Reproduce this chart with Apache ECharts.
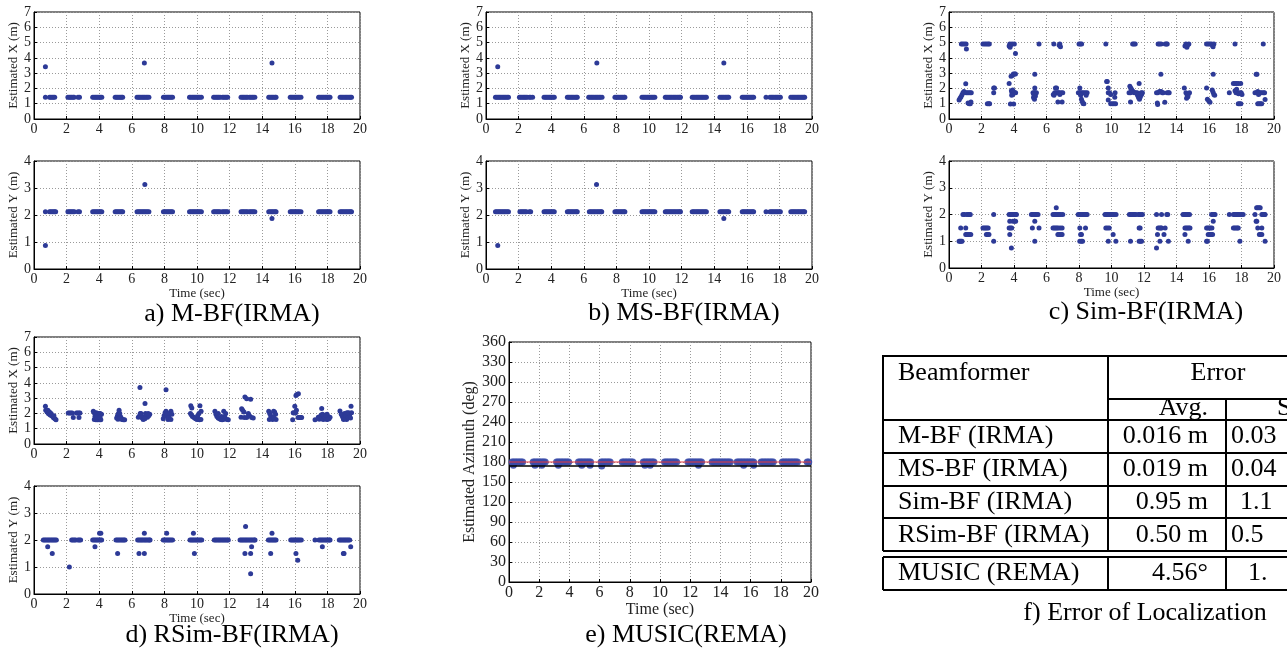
<!DOCTYPE html>
<html lang="en">
<head>
<meta charset="UTF-8">
<title>Localization results</title>
<style>
  html, body { margin: 0; padding: 0; background: #fff; }
  #box { width: 1287px; height: 650px; }
</style>
<script src="https://cdn.jsdelivr.net/npm/echarts@6/dist/echarts.min.js"></script>
</head>
<body>
<div id="box"></div>
<script>
// ---- data: [time (sec), estimate] ----
const aX = [
  [0.70,1.42],[0.70,3.42],
  [0.95,1.42],[1.03,1.42],[1.11,1.42],[1.19,1.42],[1.27,1.42],
  [2.08,1.42],[2.16,1.42],[2.24,1.42],[2.32,1.42],[2.40,1.42],[2.46,1.42],[2.70,1.42],[2.79,1.42],
  [3.60,1.42],[3.68,1.42],[3.76,1.42],[3.84,1.42],[3.92,1.42],[4.00,1.42],[4.08,1.42],[4.16,1.42],
  [4.98,1.42],[5.06,1.42],[5.14,1.42],[5.22,1.42],[5.30,1.42],[5.38,1.42],[5.44,1.42],
  [6.32,1.42],[6.40,1.42],[6.48,1.42],[6.56,1.42],[6.64,1.42],[6.72,1.42],[6.77,3.67],[6.80,1.42],[6.88,1.42],[6.96,1.42],[7.05,1.42],
  [7.94,1.42],[8.02,1.42],[8.10,1.42],[8.18,1.42],[8.26,1.42],[8.34,1.42],[8.42,1.42],[8.50,1.42],
  [9.54,1.42],[9.62,1.42],[9.70,1.42],[9.78,1.42],[9.86,1.42],[9.94,1.42],[10.02,1.42],[10.10,1.42],[10.18,1.42],[10.27,1.42],
  [11.02,1.42],[11.10,1.42],[11.18,1.42],[11.26,1.42],[11.34,1.42],[11.42,1.42],[11.56,1.42],[11.64,1.42],[11.72,1.42],[11.80,1.42],[11.88,1.42],
  [12.70,1.42],[12.78,1.42],[12.86,1.42],[12.94,1.42],[13.02,1.42],[13.10,1.42],[13.22,1.42],[13.30,1.42],[13.38,1.42],[13.46,1.42],[13.55,1.42],
  [14.40,1.42],[14.48,1.42],[14.56,1.42],[14.60,3.67],[14.64,1.42],[14.72,1.42],[14.80,1.42],[14.85,1.42],
  [15.72,1.42],[15.80,1.42],[15.88,1.42],[15.96,1.42],[16.04,1.42],[16.12,1.42],[16.20,1.42],[16.28,1.42],[16.38,1.42],
  [17.46,1.42],[17.54,1.42],[17.62,1.42],[17.70,1.42],[17.78,1.42],[17.86,1.42],[17.94,1.42],[18.02,1.42],[18.10,1.42],[18.16,1.42],
  [18.78,1.42],[18.86,1.42],[18.94,1.42],[19.02,1.42],[19.10,1.42],[19.18,1.42],[19.26,1.42],[19.34,1.42],[19.42,1.42],[19.48,1.42]
];
const aY = [
  [0.70,2.12],[0.70,0.87],
  [0.95,2.12],[1.03,2.12],[1.11,2.12],[1.19,2.12],[1.27,2.12],[1.33,2.12],
  [2.08,2.12],[2.16,2.12],[2.24,2.12],[2.32,2.12],[2.40,2.12],[2.48,2.12],[2.70,2.12],[2.79,2.12],
  [3.60,2.12],[3.68,2.12],[3.76,2.12],[3.84,2.12],[3.92,2.12],[4.00,2.12],[4.08,2.12],[4.16,2.12],
  [4.98,2.12],[5.06,2.12],[5.14,2.12],[5.22,2.12],[5.30,2.12],[5.38,2.12],[5.44,2.12],
  [6.32,2.12],[6.40,2.12],[6.48,2.12],[6.56,2.12],[6.64,2.12],[6.72,2.12],[6.80,3.13],[6.80,2.12],[6.88,2.12],[6.96,2.12],[7.05,2.12],
  [7.94,2.12],[8.02,2.12],[8.10,2.12],[8.18,2.12],[8.26,2.12],[8.34,2.12],[8.42,2.12],[8.50,2.12],
  [9.54,2.12],[9.62,2.12],[9.70,2.12],[9.78,2.12],[9.86,2.12],[9.94,2.12],[10.02,2.12],[10.10,2.12],[10.18,2.12],[10.27,2.12],
  [11.02,2.12],[11.10,2.12],[11.18,2.12],[11.26,2.12],[11.34,2.12],[11.42,2.12],[11.56,2.12],[11.64,2.12],[11.72,2.12],[11.80,2.12],[11.88,2.12],
  [12.70,2.12],[12.78,2.12],[12.86,2.12],[12.94,2.12],[13.02,2.12],[13.10,2.12],[13.22,2.12],[13.30,2.12],[13.38,2.12],[13.46,2.12],[13.55,2.12],
  [14.40,2.12],[14.48,2.12],[14.56,2.12],[14.60,1.87],[14.64,2.12],[14.72,2.12],[14.80,2.12],[14.85,2.12],
  [15.72,2.12],[15.80,2.12],[15.88,2.12],[15.96,2.12],[16.04,2.12],[16.12,2.12],[16.20,2.12],[16.28,2.12],[16.38,2.12],
  [17.46,2.12],[17.54,2.12],[17.62,2.12],[17.70,2.12],[17.78,2.12],[17.86,2.12],[17.94,2.12],[18.02,2.12],[18.10,2.12],[18.16,2.12],
  [18.78,2.12],[18.86,2.12],[18.94,2.12],[19.02,2.12],[19.10,2.12],[19.18,2.12],[19.26,2.12],[19.34,2.12],[19.42,2.12],[19.48,2.12]
];
const bX = [
  [0.58,1.42],[0.66,1.42],[0.72,3.42],[0.74,1.42],[0.82,1.42],[0.90,1.42],[0.98,1.42],[1.06,1.42],[1.14,1.42],[1.22,1.42],[1.30,1.42],[1.38,1.42],
  [2.05,1.42],[2.13,1.42],[2.21,1.42],[2.29,1.42],[2.37,1.42],[2.45,1.42],[2.52,1.42],[2.66,1.42],[2.74,1.42],[2.86,1.42],
  [3.56,1.42],[3.64,1.42],[3.72,1.42],[3.80,1.42],[3.88,1.42],[3.96,1.42],[4.04,1.42],[4.12,1.42],[4.19,1.42],
  [4.99,1.42],[5.07,1.42],[5.15,1.42],[5.23,1.42],[5.31,1.42],[5.39,1.42],[5.47,1.42],[5.55,1.42],[5.60,1.42],
  [6.30,1.42],[6.38,1.42],[6.46,1.42],[6.54,1.42],[6.62,1.42],[6.70,1.42],[6.78,1.42],[6.80,3.67],[6.86,1.42],[6.94,1.42],[7.02,1.42],[7.12,1.42],
  [7.91,1.42],[7.99,1.42],[8.07,1.42],[8.15,1.42],[8.23,1.42],[8.31,1.42],[8.39,1.42],[8.47,1.42],[8.52,1.42],
  [9.57,1.42],[9.65,1.42],[9.73,1.42],[9.81,1.42],[9.89,1.42],[9.97,1.42],[10.05,1.42],[10.13,1.42],[10.21,1.42],[10.29,1.42],[10.36,1.42],
  [11.00,1.42],[11.08,1.42],[11.16,1.42],[11.24,1.42],[11.32,1.42],[11.40,1.42],[11.48,1.42],[11.56,1.42],[11.64,1.42],[11.72,1.42],[11.80,1.42],[11.88,1.42],[11.93,1.42],
  [12.65,1.42],[12.73,1.42],[12.81,1.42],[12.89,1.42],[12.97,1.42],[13.05,1.42],[13.13,1.42],[13.21,1.42],[13.29,1.42],[13.37,1.42],[13.45,1.42],[13.52,1.42],
  [14.35,1.42],[14.43,1.42],[14.51,1.42],[14.59,3.67],[14.59,1.42],[14.67,1.42],[14.75,1.42],[14.83,1.42],[14.89,1.42],
  [15.72,1.42],[15.80,1.42],[15.88,1.42],[15.96,1.42],[16.04,1.42],[16.12,1.42],[16.20,1.42],[16.28,1.42],[16.36,1.42],[16.42,1.42],
  [17.18,1.42],[17.42,1.42],[17.50,1.42],[17.58,1.42],[17.66,1.42],[17.74,1.42],[17.82,1.42],[17.90,1.42],[17.98,1.42],[18.06,1.42],
  [18.70,1.42],[18.78,1.42],[18.86,1.42],[18.94,1.42],[19.02,1.42],[19.10,1.42],[19.18,1.42],[19.26,1.42],[19.34,1.42],[19.42,1.42],[19.50,1.42],[19.55,1.42]
];
const bY = [
  [0.58,2.12],[0.66,2.12],[0.72,0.87],[0.74,2.12],[0.82,2.12],[0.90,2.12],[0.98,2.12],[1.06,2.12],[1.14,2.12],[1.22,2.12],[1.30,2.12],[1.38,2.12],
  [2.08,2.12],[2.16,2.12],[2.24,2.12],[2.32,2.12],[2.40,2.12],[2.48,2.12],[2.66,2.12],[2.74,2.12],
  [3.56,2.12],[3.64,2.12],[3.72,2.12],[3.80,2.12],[3.88,2.12],[3.96,2.12],[4.04,2.12],[4.12,2.12],[4.19,2.12],
  [4.99,2.12],[5.07,2.12],[5.15,2.12],[5.23,2.12],[5.31,2.12],[5.39,2.12],[5.47,2.12],[5.55,2.12],[5.60,2.12],
  [6.34,2.12],[6.42,2.12],[6.50,2.12],[6.58,2.12],[6.66,2.12],[6.74,2.12],[6.78,3.13],[6.82,2.12],[6.90,2.12],[6.98,2.12],[7.06,2.12],[7.10,2.12],
  [7.91,2.12],[7.99,2.12],[8.07,2.12],[8.15,2.12],[8.23,2.12],[8.31,2.12],[8.39,2.12],[8.47,2.12],[8.52,2.12],
  [9.57,2.12],[9.65,2.12],[9.73,2.12],[9.81,2.12],[9.89,2.12],[9.97,2.12],[10.05,2.12],[10.13,2.12],[10.21,2.12],[10.29,2.12],[10.36,2.12],
  [11.00,2.12],[11.08,2.12],[11.16,2.12],[11.24,2.12],[11.32,2.12],[11.40,2.12],[11.48,2.12],[11.56,2.12],[11.64,2.12],[11.72,2.12],[11.80,2.12],[11.88,2.12],[11.93,2.12],
  [12.65,2.12],[12.73,2.12],[12.81,2.12],[12.89,2.12],[12.97,2.12],[13.05,2.12],[13.13,2.12],[13.21,2.12],[13.29,2.12],[13.37,2.12],[13.45,2.12],[13.52,2.12],
  [14.35,2.12],[14.43,2.12],[14.51,2.12],[14.59,1.87],[14.59,2.12],[14.67,2.12],[14.75,2.12],[14.83,2.12],[14.89,2.12],
  [15.72,2.12],[15.80,2.12],[15.88,2.12],[15.96,2.12],[16.04,2.12],[16.12,2.12],[16.20,2.12],[16.28,2.12],[16.36,2.12],[16.42,2.12],
  [17.18,2.12],[17.42,2.12],[17.50,2.12],[17.58,2.12],[17.66,2.12],[17.74,2.12],[17.82,2.12],[17.90,2.12],[17.98,2.12],[18.06,2.12],
  [18.70,2.12],[18.78,2.12],[18.86,2.12],[18.94,2.12],[19.02,2.12],[19.10,2.12],[19.18,2.12],[19.26,2.12],[19.34,2.12],[19.42,2.12],[19.50,2.12],[19.55,2.12]
];
const cX = [
  [0.62,1.25],[0.68,1.35],[0.74,1.45],[0.80,1.58],[0.86,1.72],[0.92,1.80],
  [0.76,4.90],[0.85,4.90],[0.95,4.90],[1.05,4.90],[1.07,4.58],
  [1.03,2.31],[1.05,1.72],[1.13,1.72],[1.22,1.72],[1.30,1.72],[1.37,1.72],
  [1.17,1.05],[1.24,1.00],[1.31,1.00],[1.35,1.12],
  [2.09,4.90],[2.20,4.90],[2.30,4.90],[2.40,4.90],[2.48,4.90],
  [2.36,1.00],[2.45,1.00],[2.50,1.00],
  [2.75,2.03],[2.80,2.03],[2.75,1.72],
  [3.70,4.78],[3.74,4.90],[3.80,4.85],[3.88,4.90],[4.02,4.90],[3.76,4.70],
  [3.70,2.33],[3.82,2.80],[3.90,2.85],[3.96,2.95],[4.04,2.95],[4.09,2.95],
  [3.78,0.98],[3.98,0.98],
  [3.84,1.85],[3.88,1.70],[3.92,1.60],[3.98,1.75],[4.04,1.72],[4.10,1.72],[3.86,1.55],[3.92,1.90],
  [4.09,4.28],
  [5.17,1.72],[5.24,1.72],[5.30,1.72],[5.38,1.72],[5.28,2.03],[5.28,2.93],[5.20,1.40],[5.26,1.30],[5.32,1.50],[5.22,1.60],
  [5.54,4.90],
  [6.45,4.90],[6.78,4.82],[6.82,4.90],[6.86,4.72],
  [6.42,1.60],[6.50,1.72],[6.58,1.70],[6.66,1.72],[6.74,1.72],[6.82,1.60],[6.90,1.72],[7.00,1.72],[6.55,2.03],[6.62,2.03],[6.70,1.12],[6.96,1.12],[6.46,1.55],[6.78,1.72],
  [8.00,4.90],[8.08,4.90],[8.16,4.90],
  [8.05,2.03],[7.96,1.72],[8.04,1.72],[8.12,1.72],[8.20,1.72],[8.30,1.72],[8.40,1.72],[8.50,1.72],[8.44,1.55],[8.15,1.30],[8.20,1.15],[8.25,1.02],[8.30,1.00],[8.10,1.55],
  [9.65,4.90],
  [9.70,2.46],[9.74,2.46],[9.80,2.03],[9.80,1.72],[9.88,1.72],[9.95,1.60],[9.80,1.25],[9.95,1.00],[10.05,1.00],[10.15,1.00],[10.25,1.00],[10.20,1.42],[10.22,1.72],
  [11.30,4.90],[11.38,4.90],[11.46,4.90],
  [11.13,2.15],[11.18,2.03],[11.23,1.95],[11.28,1.85],[11.35,1.78],[11.40,1.72],[11.08,1.72],[11.17,1.72],[11.50,1.72],[11.58,1.72],[11.17,1.12],
  [11.70,2.33],[11.60,1.55],[11.66,1.40],[11.72,1.30],[11.78,1.45],[11.85,1.60],[11.90,1.72],[11.82,1.72],
  [12.87,4.90],[12.95,4.90],[13.05,4.90],[13.30,4.90],[13.38,4.90],[13.43,4.90],
  [13.04,2.93],[12.77,1.72],[12.85,1.72],[12.95,1.80],[13.05,1.80],[13.12,1.72],[13.18,1.72],[12.82,1.05],[12.84,0.95],[13.28,1.10],[13.42,1.72],[13.50,1.72],[13.55,1.72],
  [14.52,4.78],[14.58,4.90],[14.64,4.70],[14.70,4.85],[14.76,4.90],
  [14.48,2.03],[14.58,1.72],[14.66,1.55],[14.72,1.60],[14.80,1.72],[14.62,1.35],[14.70,1.45],
  [15.85,4.90],[15.95,4.90],[16.05,4.90],[16.15,4.90],[16.22,4.80],[16.30,4.90],[16.25,4.72],
  [15.85,2.03],[15.90,1.30],[15.98,1.20],[16.06,1.10],[16.20,1.90],[16.25,1.75],[16.30,1.60],[16.35,1.55],[16.26,2.93],
  [17.60,4.90],
  [17.25,1.72],[17.50,2.33],[17.60,2.33],[17.70,2.33],[17.80,2.33],[17.95,2.33],[17.60,1.85],[17.66,1.72],[17.74,1.72],[17.82,1.65],[17.90,1.72],[17.98,1.72],[18.03,1.60],[17.70,1.95],[17.80,1.00],[17.88,1.00],[17.96,1.00],
  [19.34,4.90],
  [18.90,2.93],[18.95,2.93],[18.83,1.72],[18.92,1.72],[19.00,1.80],[19.08,1.72],[19.16,1.72],[19.25,1.72],[19.35,1.72],[19.42,1.72],[19.05,1.60],[19.00,1.00],[19.08,1.00],[19.16,1.00],[19.24,1.00],[19.45,1.28]
];
const cY = [
  [0.62,1.00],[0.68,1.00],[0.74,1.00],[0.80,1.00],[0.72,1.50],[0.86,2.00],[0.95,2.00],[1.03,1.50],[1.03,1.25],[1.10,1.25],[1.18,1.25],[1.26,1.25],[1.34,1.25],[1.10,2.00],[1.18,2.00],[1.26,2.00],[1.31,2.00],
  [2.09,1.50],[2.17,1.50],[2.25,1.50],[2.33,1.50],[2.41,1.50],[2.30,1.25],[2.38,1.25],[2.46,1.25],[2.75,2.00],[2.75,1.00],
  [3.70,2.00],[3.78,2.00],[3.86,2.00],[3.94,2.00],[4.02,2.00],[4.10,2.00],[4.15,2.00],[3.70,1.50],[3.78,1.50],[3.86,1.50],[3.74,1.25],[3.84,0.75],[3.94,1.75],[4.04,1.75],[4.10,1.75],[3.74,1.75],
  [5.07,2.00],[5.15,2.00],[5.23,2.00],[5.31,2.00],[5.39,2.00],[5.48,2.00],[5.13,1.50],[5.28,1.00],[5.28,1.75],[5.54,1.50],
  [6.40,2.00],[6.48,2.00],[6.56,2.00],[6.64,2.00],[6.72,2.00],[6.80,2.00],[6.88,2.00],[7.00,2.00],[6.60,2.25],[6.40,1.50],[6.48,1.50],[6.56,1.50],[6.64,1.50],[6.72,1.50],[6.84,1.50],[6.96,1.50],[6.70,1.25],[6.78,1.25],[6.88,1.25],[6.96,1.25],
  [7.95,2.00],[8.03,2.00],[8.11,2.00],[8.19,2.00],[8.27,2.00],[8.35,2.00],[8.43,2.00],[8.50,2.00],[8.05,1.50],[8.15,1.25],[8.05,1.00],[8.15,1.00],[8.22,1.00],[8.40,1.50],[8.10,1.25],
  [9.60,2.00],[9.68,2.00],[9.76,2.00],[9.84,2.00],[9.92,2.00],[10.00,2.00],[10.08,2.00],[10.16,2.00],[10.28,2.00],[9.65,1.50],[9.75,1.50],[9.86,1.50],[10.10,1.25],[9.80,1.00],[10.27,1.00],
  [11.10,2.00],[11.18,2.00],[11.26,2.00],[11.34,2.00],[11.42,2.00],[11.50,2.00],[11.17,1.00],[11.65,2.00],[11.73,2.00],[11.81,2.00],[11.90,2.00],[11.70,1.50],[11.76,1.50],[11.70,1.00],[11.78,1.00],[11.85,1.00],
  [12.77,2.00],[12.83,1.25],[12.77,0.75],[12.87,1.50],[12.95,1.50],[13.03,1.50],[13.08,1.50],[12.98,1.00],[13.08,2.00],[13.23,1.25],[13.30,1.50],[13.40,2.00],[13.46,2.00],[13.50,1.00],
  [14.40,2.00],[14.48,2.00],[14.56,2.00],[14.64,2.00],[14.72,2.00],[14.80,2.00],[14.52,1.25],[14.52,1.50],[14.60,1.50],[14.68,1.50],[14.76,1.50],[14.83,1.50],[14.72,1.00],
  [15.85,1.00],[15.90,1.00],[15.85,1.50],[15.93,1.50],[16.01,1.50],[16.09,1.50],[16.18,1.50],[15.95,1.25],[16.05,1.25],[16.13,1.25],[16.22,1.25],[16.16,2.00],[16.24,2.00],[16.32,2.00],[16.37,2.00],[16.26,1.75],
  [17.25,2.00],[17.50,2.00],[17.58,2.00],[17.66,2.00],[17.74,2.00],[17.82,2.00],[17.90,2.00],[18.00,2.00],[18.10,2.00],[17.50,1.50],[17.58,1.50],[17.66,1.50],[17.74,1.50],[17.80,1.50],[17.90,1.00],
  [18.83,2.00],[18.90,1.75],[18.94,1.75],[18.93,2.25],[19.00,2.25],[19.08,2.25],[19.15,2.25],[19.00,1.50],[19.25,1.50],[19.10,1.25],[19.16,1.25],[19.25,1.25],[19.25,2.00],[19.33,2.00],[19.40,2.00],[19.45,2.00],[19.45,1.00]
];
const dX = [
  [0.70,2.47],[0.72,2.20],[0.80,2.10],[0.85,2.20],[0.88,2.00],[0.95,1.95],[0.95,2.10],[1.00,1.90],[1.05,2.00],[1.08,1.85],[1.15,1.80],[1.20,1.72],[1.28,1.65],[1.35,1.58],[1.22,1.85],
  [2.10,2.03],[2.18,2.03],[2.26,2.03],[2.34,2.03],[2.41,1.73],[2.60,2.03],[2.68,2.03],[2.76,2.03],[2.82,2.03],[2.76,1.73],
  [3.64,2.15],[3.70,2.05],[3.76,1.95],[3.82,2.05],[3.90,2.00],[3.98,2.00],[4.06,2.00],[4.14,1.95],[3.70,1.60],[3.80,1.58],[3.90,1.58],[4.00,1.58],[4.10,1.58],[3.74,1.80],[3.86,1.75],[4.05,1.75],
  [5.07,1.70],[5.12,1.85],[5.18,2.00],[5.22,2.20],[5.26,2.00],[5.30,1.80],[5.35,1.70],[5.40,1.60],[5.48,1.58],[5.56,1.58],[5.15,1.62],[5.25,1.65],
  [6.40,1.75],[6.48,1.85],[6.50,3.70],[6.56,2.00],[6.60,1.80],[6.64,1.70],[6.70,1.60],[6.76,1.75],[6.81,2.65],[6.84,2.00],[6.90,1.90],[6.96,1.75],[7.04,1.85],[7.10,1.95],[6.52,2.00],[6.80,1.65],[7.00,2.00],
  [7.93,1.65],[7.98,1.85],[8.04,2.05],[8.10,3.55],[8.10,2.15],[8.16,1.80],[8.22,1.60],[8.28,1.75],[8.34,2.00],[8.40,2.15],[8.46,1.95],[8.20,2.00],[8.40,1.60],
  [9.62,2.50],[9.68,2.35],[9.60,2.00],[9.66,1.90],[9.72,1.80],[9.80,1.75],[9.86,1.70],[9.92,1.65],[10.00,1.60],[10.08,1.62],[10.16,1.58],[10.24,1.60],[10.18,2.50],[10.25,2.15],[10.12,2.00],[10.04,1.85],
  [11.10,2.15],[11.16,1.95],[11.22,1.80],[11.30,1.70],[11.38,1.65],[11.46,1.60],[11.54,1.58],[11.62,1.60],[11.70,1.80],[11.64,2.15],[11.76,2.00],[11.84,1.60],[11.92,1.58],[11.30,2.00],[11.50,1.80],
  [12.70,1.75],[12.74,2.30],[12.80,2.20],[12.88,2.10],[12.94,3.07],[13.05,2.96],[13.05,1.73],[13.15,2.00],[13.22,1.85],[13.29,2.92],[13.35,1.73],[13.45,1.70],[12.90,1.73],
  [14.40,2.15],[14.46,2.00],[14.52,1.85],[14.58,1.72],[14.64,1.60],[14.70,2.15],[14.76,2.10],[14.82,1.95],[14.85,1.60],[14.44,1.60],[14.70,1.75],
  [15.87,1.58],[15.95,2.03],[16.00,2.47],[16.07,3.18],[16.12,3.24],[16.22,3.29],[16.10,2.20],[16.20,1.73],[16.28,1.73],[16.36,1.73],[16.42,1.73],[15.90,2.05],[16.05,2.05],
  [17.24,1.58],[17.44,1.75],[17.50,1.62],[17.56,1.80],[17.62,1.90],[17.65,2.32],[17.68,1.70],[17.74,1.60],[17.80,1.85],[17.86,1.75],[17.92,1.62],[17.98,1.95],[18.04,1.80],[18.10,1.65],[18.16,1.75],[17.70,1.95],[17.90,1.90],[18.00,1.60],
  [18.77,2.16],[18.85,1.95],[18.92,1.80],[18.98,1.65],[19.05,2.00],[19.12,1.85],[19.18,1.60],[19.24,1.75],[19.30,2.05],[19.36,1.90],[19.42,1.70],[19.45,2.47],[19.48,2.05],[19.00,1.60],[19.20,2.05]
];
const dY = [
  [0.57,2.00],[0.65,2.00],[0.73,2.00],[0.81,2.00],[0.89,2.00],[0.97,2.00],[1.05,2.00],[1.13,2.00],[1.21,2.00],[1.29,2.00],[1.37,2.00],[0.84,1.75],[1.12,1.50],
  [2.17,1.00],[2.31,2.00],[2.39,2.00],[2.47,2.00],[2.55,2.00],[2.70,2.00],[2.78,2.00],[2.86,2.00],
  [3.60,2.00],[3.68,2.00],[3.76,2.00],[3.84,2.00],[3.92,2.00],[4.00,2.00],[4.08,2.00],[4.15,2.00],[3.74,1.75],[4.02,2.25],[4.10,2.25],
  [5.03,2.00],[5.11,2.00],[5.19,2.00],[5.27,2.00],[5.35,2.00],[5.43,2.00],[5.51,2.00],[5.58,2.00],[5.13,1.50],
  [6.36,2.00],[6.44,2.00],[6.52,2.00],[6.60,2.00],[6.68,2.00],[6.76,2.00],[6.84,2.00],[6.92,2.00],[7.00,2.00],[7.08,2.00],[7.12,2.00],[6.44,1.50],[6.77,1.50],[6.77,2.25],
  [7.93,2.00],[8.01,2.00],[8.09,2.00],[8.17,2.00],[8.25,2.00],[8.33,2.00],[8.41,2.00],[8.50,2.00],[8.14,2.25],
  [9.57,2.00],[9.65,2.00],[9.73,2.00],[9.81,2.00],[9.89,2.00],[9.97,2.00],[10.05,2.00],[10.13,2.00],[10.21,2.00],[10.29,2.00],[9.78,2.25],[9.84,1.50],
  [11.06,2.00],[11.14,2.00],[11.22,2.00],[11.30,2.00],[11.38,2.00],[11.46,2.00],[11.54,2.00],[11.62,2.00],[11.70,2.00],[11.78,2.00],[11.86,2.00],[11.92,2.00],
  [12.64,2.00],[12.72,2.00],[12.80,2.00],[12.88,2.00],[12.96,2.00],[13.04,2.00],[13.12,2.00],[13.20,2.00],[13.28,2.00],[13.36,2.00],[13.44,2.00],[13.52,2.00],[13.56,2.00],[12.98,2.50],[12.94,1.50],[13.29,1.50],[13.35,1.75],[13.29,0.75],
  [14.38,2.00],[14.46,2.00],[14.54,2.00],[14.62,2.00],[14.70,2.00],[14.78,2.00],[14.85,2.00],[14.52,1.50],[14.60,2.25],
  [15.75,2.00],[15.83,2.00],[15.91,2.00],[15.99,2.00],[16.07,2.00],[16.15,2.00],[16.23,2.00],[16.31,2.00],[16.40,2.00],[16.07,1.50],[16.18,1.25],
  [17.24,2.00],[17.48,2.00],[17.56,2.00],[17.64,2.00],[17.72,2.00],[17.80,2.00],[17.88,2.00],[17.96,2.00],[18.04,2.00],[18.12,2.00],[18.16,2.00],[17.69,1.75],
  [18.73,2.00],[18.81,2.00],[18.89,2.00],[18.97,2.00],[19.05,2.00],[19.13,2.00],[19.21,2.00],[19.29,2.00],[19.37,2.00],[18.98,1.50],[19.02,1.50],[19.43,1.75]
];
// MUSIC azimuth estimates (deg)
const eAz = [
  [0.20,180],[0.30,180],[0.40,180],[0.50,180],[0.60,180],[0.70,180],[0.80,180],[0.90,180],[0.29,175],
  [1.60,180],[1.70,180],[1.80,180],[1.90,180],[2.00,180],[2.10,180],[2.20,180],[2.30,180],[2.40,180],[1.72,175],[2.17,175],
  [3.15,180],[3.25,180],[3.35,180],[3.45,180],[3.55,180],[3.65,180],[3.75,180],[3.85,180],[3.95,180],[3.27,175],
  [4.60,180],[4.70,180],[4.80,180],[4.90,180],[5.00,180],[5.10,180],[5.20,180],[5.30,180],[5.40,180],[4.82,175],[5.37,175],
  [6.10,180],[6.20,180],[6.30,180],[6.40,180],[6.50,180],[6.60,180],[6.70,180],[6.14,174],
  [7.50,180],[7.60,180],[7.70,180],[7.80,180],[7.90,180],[8.00,180],[8.10,180],[8.20,180],
  [8.90,180],[9.00,180],[9.10,180],[9.20,180],[9.30,180],[9.40,180],[9.50,180],[9.60,180],[9.00,175],[9.35,175],
  [10.30,180],[10.40,180],[10.50,180],[10.60,180],[10.70,180],[10.80,180],[10.90,180],[11.00,180],[11.10,180],
  [11.85,180],[11.95,180],[12.05,180],[12.15,180],[12.25,180],[12.35,180],[12.45,180],[12.55,180],[12.65,180],[12.75,180],[12.55,175],
  [13.45,180],[13.55,180],[13.65,180],[13.75,180],[13.85,180],[13.95,180],[14.05,180],[14.15,180],[14.25,180],[14.35,180],[14.45,180],[14.55,180],[14.65,180],
  [15.10,180],[15.20,180],[15.30,180],[15.40,180],[15.50,180],[15.60,180],[15.70,180],[15.80,180],[15.90,180],[16.00,180],[16.10,180],[16.20,180],[15.54,175],[16.20,175],
  [16.70,180],[16.80,180],[16.90,180],[17.00,180],[17.10,180],[17.20,180],[17.30,180],[17.40,180],[17.50,180],
  [18.10,180],[18.20,180],[18.30,180],[18.40,180],[18.50,180],[18.60,180],[18.70,180],[18.80,180],[18.90,180],[19.00,180],[19.10,180],
  [19.75,180],[19.85,180]
];
const eTruth = 180;   // red reference line
const eMean = 174;    // black line
const timeRange = [0, 20];

// table f)
const tableRows = ['M-BF (IRMA)', 'MS-BF (IRMA)', 'Sim-BF (IRMA)', 'RSim-BF (IRMA)', 'MUSIC (REMA)'];
const tableAvg = ['0.016 m', '0.019 m', '0.95 m', '0.50 m', '4.56\u00B0'];
const tableStd = ['0.03', '0.04', '1.1', '0.5', '1.'];

const captions = ['a) M-BF(IRMA)', 'b) MS-BF(IRMA)', 'c) Sim-BF(IRMA)', 'd) RSim-BF(IRMA)', 'e) MUSIC(REMA)', 'f) Error of Localization'];

(function () {
  const font = 'Liberation Serif';
  const dot = '#2d3a97';
  const ink = '#222';

  // plot layout
  const panels = [
    { pos: [34, 12, 326, 107], yMax: 7, yName: 'Estimated X (m)', data: aX },
    { pos: [34, 161, 326, 108], yMax: 4, yName: 'Estimated Y (m)', data: aY, time: true },
    { pos: [486, 12, 326, 107], yMax: 7, yName: 'Estimated X (m)', data: bX },
    { pos: [486, 161, 326, 108], yMax: 4, yName: 'Estimated Y (m)', data: bY, time: true },
    { pos: [949, 12, 325, 107], yMax: 7, yName: 'Estimated X (m)', data: cX },
    { pos: [949, 161, 325, 107], yMax: 4, yName: 'Estimated Y (m)', data: cY, time: true },
    { pos: [34, 337, 326, 107], yMax: 7, yName: 'Estimated X (m)', data: dX },
    { pos: [34, 486, 326, 108], yMax: 4, yName: 'Estimated Y (m)', data: dY, time: true },
    { pos: [509, 342, 302, 240], yMax: 360, yStep: 30, yName: 'Estimated Azimuth (deg)', data: eAz, time: true, big: true }
  ];

  let grid = [], xAxis = [], yAxis = [], series = [];
  panels.forEach(function (p, i) {
    let fs = p.big ? 16 : 14;   // tick labels
    let ns = p.big ? 16 : 13;   // axis names
    grid.push({
      left: p.pos[0], top: p.pos[1], width: p.pos[2], height: p.pos[3],
      show: true, borderColor: '#000', borderWidth: 1, backgroundColor: '#fff'
    });
    xAxis.push({
      gridIndex: i, type: 'value', min: timeRange[0], max: timeRange[1], interval: 2,
      axisLine: { show: true, onZero: false, lineStyle: { color: '#000', width: 1 } },
      axisTick: { show: true, inside: true, length: 3, lineStyle: { color: '#000' } },
      axisLabel: { fontFamily: font, fontSize: fs, color: ink, margin: 3 },
      splitLine: { show: true, lineStyle: { color: '#9a9a9a', type: [1, 2] } },
      name: p.time ? 'Time (sec)' : '', nameLocation: 'middle', nameGap: p.big ? 18 : 14,
      nameTextStyle: { fontFamily: font, fontSize: ns, color: ink }
    });
    yAxis.push({
      gridIndex: i, type: 'value', min: 0, max: p.yMax, interval: p.yStep || 1,
      axisLine: { show: true, onZero: false, lineStyle: { color: '#000', width: 1 } },
      axisTick: { show: true, inside: true, length: 3, lineStyle: { color: '#000' } },
      axisLabel: { fontFamily: font, fontSize: fs, color: ink, margin: 3 },
      splitLine: { show: true, lineStyle: { color: '#9a9a9a', type: [1, 2] } },
      name: p.yName, nameLocation: 'middle', nameGap: p.big ? 29 : 12,
      nameTextStyle: { fontFamily: font, fontSize: ns, color: ink }
    });
    series.push({
      type: 'scatter', xAxisIndex: i, yAxisIndex: i, data: p.data,
      symbol: 'circle', symbolSize: p.big ? 7 : 5, z: 3,
      itemStyle: { color: p.big ? '#3a4ba8' : dot, opacity: p.big ? 0.9 : 1 }
    });
  });

  // reference lines in e)
  series.push({
    type: 'line', xAxisIndex: 8, yAxisIndex: 8, symbol: 'none', z: 5,
    data: [[timeRange[0], eMean], [timeRange[1], eMean]],
    lineStyle: { color: '#000', width: 1.5 }
  });
  series.push({
    type: 'line', xAxisIndex: 8, yAxisIndex: 8, symbol: 'none', z: 6,
    data: [[timeRange[0], eTruth], [timeRange[1], eTruth]],
    lineStyle: { color: '#e8383d', width: 1 }
  });

  // captions and table
  let g = [];
  function txt(s, x, y, size, align) {
    g.push({
      type: 'text', x: x, y: y, z: 10,
      style: {
        text: s, font: size + 'px "' + font + '"', fill: '#000',
        align: align || 'center', textAlign: align || 'center',
        verticalAlign: 'middle', textVerticalAlign: 'middle'
      }
    });
  }
  function ln(x1, y1, x2, y2) {
    g.push({ type: 'line', z: 10, shape: { x1: x1, y1: y1, x2: x2, y2: y2 }, style: { stroke: '#000', lineWidth: 2 } });
  }

  const capPos = [[232, 314], [684, 313], [1146, 312], [232, 635], [686, 635], [1145, 613]];
  captions.forEach(function (c, i) { txt(c, capPos[i][0], capPos[i][1], 26); });

  // table frame
  const L = 883, C1 = 1108, C2 = 1226, R = 1300;
  const rowY = [420, 453, 486, 518, 551];
  ln(L, 356, R, 356);
  ln(C1, 399, R, 399);
  rowY.forEach(function (y) { ln(L, y, R, y); });
  ln(L, 557, R, 557);
  ln(L, 590, R, 590);
  ln(L, 355, L, 551); ln(L, 557, L, 590);
  ln(C1, 355, C1, 551); ln(C1, 557, C1, 590);
  ln(C2, 399, C2, 551); ln(C2, 557, C2, 590);

  txt('Beamformer', 898, 373, 26, 'left');
  txt('Error', 1218, 373, 26, 'center');
  txt('Avg.', 1208, 408, 26, 'right');
  txt('S', 1277, 408, 26, 'left');
  const rowMid = [436, 469, 502, 535, 573];
  const stdX = [1231, 1231, 1240, 1231, 1248];
  tableRows.forEach(function (r, i) {
    txt(r, 898, rowMid[i], 26, 'left');
    txt(tableAvg[i], 1208, rowMid[i], 26, 'right');
    txt(tableStd[i], stdX[i], rowMid[i], 26, 'left');
  });

  let chart = echarts.init(document.getElementById('box'));
  chart.setOption({
    backgroundColor: '#fff',
    animation: false,
    grid: grid,
    xAxis: xAxis,
    yAxis: yAxis,
    series: series,
    graphic: g
  });
})();
</script>
</body>
</html>
